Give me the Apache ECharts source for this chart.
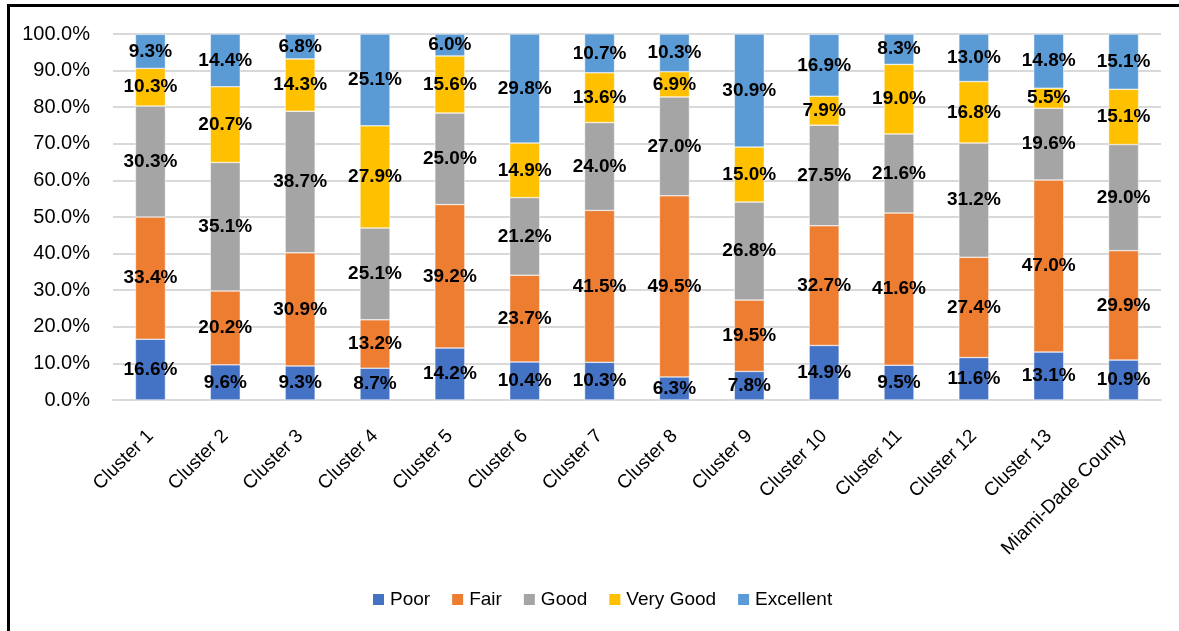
<!DOCTYPE html>
<html>
<head>
<meta charset="utf-8">
<script src="https://cdn.jsdelivr.net/npm/echarts@6/dist/echarts.min.js"></script>
<style>
  html, body { margin: 0; padding: 0; background: #fff; }
  #chart { width: 1179px; height: 631px; }
</style>
</head>
<body>
<div id="chart"></div>
<script>
const categories = ['Cluster 1', 'Cluster 2', 'Cluster 3', 'Cluster 4', 'Cluster 5', 'Cluster 6', 'Cluster 7',
  'Cluster 8', 'Cluster 9', 'Cluster 10', 'Cluster 11', 'Cluster 12', 'Cluster 13', 'Miami-Dade County'];

const poor = [16.6, 9.6, 9.3, 8.7, 14.2, 10.4, 10.3, 6.3, 7.8, 14.9, 9.5, 11.6, 13.1, 10.9];
const fair = [33.4, 20.2, 30.9, 13.2, 39.2, 23.7, 41.5, 49.5, 19.5, 32.7, 41.6, 27.4, 47.0, 29.9];
const good = [30.3, 35.1, 38.7, 25.1, 25.0, 21.2, 24.0, 27.0, 26.8, 27.5, 21.6, 31.2, 19.6, 29.0];
const veryGood = [10.3, 20.7, 14.3, 27.9, 15.6, 14.9, 13.6, 6.9, 15.0, 7.9, 19.0, 16.8, 5.5, 15.1];
const excellent = [9.3, 14.4, 6.8, 25.1, 6.0, 29.8, 10.7, 10.3, 30.9, 16.9, 8.3, 13.0, 14.8, 15.1];

const seriesNames = ['Poor', 'Fair', 'Good', 'Very Good', 'Excellent'];
const seriesColors = ['#4472C4', '#ED7D31', '#A5A5A5', '#FFC000', '#5B9BD5'];
const seriesData = [poor, fair, good, veryGood, excellent];

const myChart = echarts.init(document.getElementById('chart'));

const option = {
  animation: false,
  textStyle: { fontFamily: 'Liberation Sans, Arial, sans-serif' },
  grid: {
    left: 113,
    right: 18,
    top: 34,
    bottom: 231,
  },
  legend: {
    left: 366,
    top: 585,
    icon: 'rect',
    itemWidth: 13,
    itemHeight: 13,
    itemGap: 20,
    textStyle: { fontSize: 19, color: '#000' },
    data: seriesNames,
  },
  xAxis: {
    type: 'category',
    data: categories,
    axisTick: { show: false },
    axisLine: { lineStyle: { color: '#D9D9D9', width: 2 } },
    axisLabel: {
      interval: 0,
      rotate: 45,
      margin: 33,
      fontSize: 19,
      color: '#000',
    },
  },
  yAxis: {
    type: 'value',
    min: 0,
    max: 100,
    interval: 10,
    axisLabel: {
      fontSize: 20,
      color: '#000',
      margin: 23,
      formatter: v => v.toFixed(1) + '%',
    },
    splitLine: { lineStyle: { color: '#D9D9D9', width: 2 } },
  },
  graphic: [{
    type: 'rect',
    shape: { x: 8.5, y: 5.5, width: 1300, height: 1000 },
    style: { fill: 'none', stroke: '#000', lineWidth: 3 },
    silent: true,
  }],
  series: seriesNames.map((name, i) => ({
    name,
    type: 'bar',
    stack: 'total',
    barWidth: 30,
    itemStyle: { color: seriesColors[i], borderColor: '#fff', borderWidth: 0.5 },
    label: {
      show: true,
      position: 'inside',
      fontWeight: 'bold',
      fontSize: 19,
      color: '#000',
      formatter: p => p.value.toFixed(1) + '%',
    },
    data: seriesData[i],
  })),
};

myChart.setOption(option);
</script>
</body>
</html>
